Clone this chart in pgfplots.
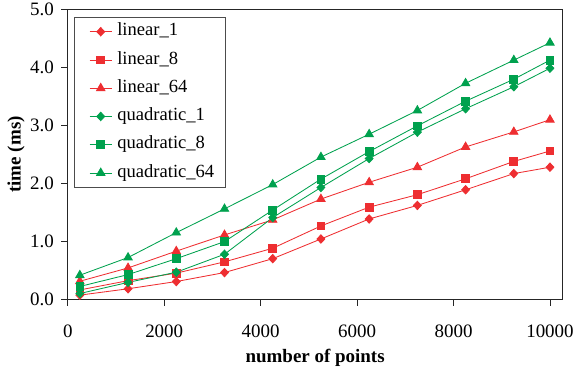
\documentclass[border=0pt]{standalone}
\usepackage{fontspec}
\setmainfont{Liberation Serif}
\usepackage{pgfplots}
\pgfplotsset{compat=1.18}
\definecolor{cred}{HTML}{EE2E31}
\definecolor{cgreen}{HTML}{00A14E}
\begin{document}
\begin{tikzpicture}
\begin{axis}[
  scale only axis,
  width=495.7pt, height=290pt,
  xmin=0, xmax=10260, ymin=0, ymax=5,
  xtick={0,2000,4000,6000,8000,10000},
  ytick={0,1,2,3,4,5},
  scaled ticks=false,
  tick align=outside, xtick pos=bottom, ytick pos=left,
  major tick length=6.5pt,
  axis line style={black!85, line width=0.8pt},
  tick style={black!85, line width=0.8pt},
  /pgf/number format/assume math mode=true,
  x tick label style={font=\fontsize{19}{21}\selectfont, /pgf/number format/1000 sep={}},
  y tick label style={font=\fontsize{19}{21}\selectfont, /pgf/number format/fixed, /pgf/number format/fixed zerofill, /pgf/number format/precision=1},
  xticklabel style={yshift=-16pt},
  yticklabel style={xshift=-4pt},
  xlabel={\textbf{number of points}},
  ylabel={\textbf{time (ms)}},
  label style={font=\fontsize{19}{21}\selectfont},
  xlabel style={yshift=-4pt},
  ylabel style={at={(axis description cs:-0.1045,0.5)}, anchor=center, inner ysep=7.5pt},
  legend cell align=left,
  legend style={at={(0.0121,0.975)}, anchor=north west, font=\fontsize{18.6}{21}\selectfont, draw=black!70, line width=0.8pt, row sep=10.8pt, column sep=5pt, inner xsep=11pt, inner ysep=5.6pt, nodes={inner sep=0pt, text height=13pt, text depth=4.5pt}},
  legend image code/.code={\path (0pt,0pt); \draw[mark repeat=2,mark phase=2] plot coordinates {(4pt,0pt)(15.2pt,0pt)(26.4pt,0pt)};},
  every axis plot/.append style={line width=0.85pt},
  dia/.style={mark=diamond*, mark size=4.2pt, mark options={xscale=1.25}},
  sq/.style={mark=square*, mark size=3.9pt},
  tri/.style={mark=triangle*, mark size=4.8pt},
]
\addplot[cred, dia] coordinates {
(250,0.07)(1250,0.18)(2250,0.305)(3250,0.46)(4250,0.70)(5250,1.04)(6250,1.386)(7250,1.62)(8250,1.89)(9250,2.17)(10000,2.28)};
\addlegendentry{linear\_1}
\addplot[cred, sq] coordinates {
(250,0.16)(1250,0.32)(2250,0.45)(3250,0.645)(4250,0.88)(5250,1.265)(6250,1.59)(7250,1.805)(8250,2.08)(9250,2.38)(10000,2.56)};
\addlegendentry{linear\_8}
\addplot[cred, tri] coordinates {
(250,0.31)(1250,0.54)(2250,0.83)(3250,1.11)(4250,1.37)(5250,1.73)(6250,2.02)(7250,2.28)(8250,2.63)(9250,2.89)(10000,3.10)};
\addlegendentry{linear\_64}
\addplot[cgreen, dia] coordinates {
(250,0.098)(1250,0.29)(2250,0.466)(3250,0.776)(4250,1.41)(5250,1.93)(6250,2.43)(7250,2.886)(8250,3.29)(9250,3.67)(10000,3.99)};
\addlegendentry{quadratic\_1}
\addplot[cgreen, sq] coordinates {
(250,0.22)(1250,0.425)(2250,0.70)(3250,0.995)(4250,1.54)(5250,2.075)(6250,2.55)(7250,2.995)(8250,3.42)(9250,3.80)(10000,4.13)};
\addlegendentry{quadratic\_8}
\addplot[cgreen, tri] coordinates {
(250,0.414)(1250,0.72)(2250,1.15)(3250,1.56)(4250,1.98)(5250,2.455)(6250,2.85)(7250,3.26)(8250,3.73)(9250,4.13)(10000,4.43)};
\addlegendentry{quadratic\_64}
\end{axis}
\end{tikzpicture}
\end{document}
